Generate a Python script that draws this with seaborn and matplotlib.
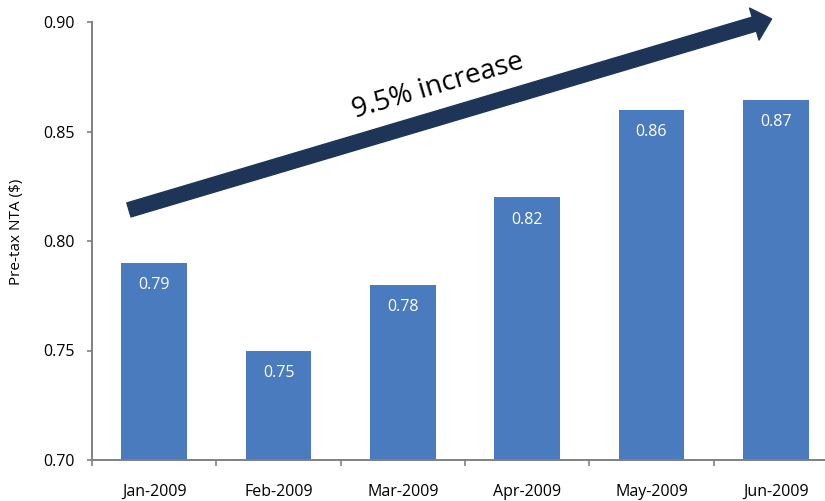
import matplotlib
matplotlib.use("Agg")
import matplotlib.pyplot as plt
import seaborn as sns
import pandas as pd

months = ["Jan-2009", "Feb-2009", "Mar-2009", "Apr-2009", "May-2009", "Jun-2009"]
nta = [0.79, 0.75, 0.78, 0.82, 0.86, 0.8645]
bar_labels = ["0.79", "0.75", "0.78", "0.82", "0.86", "0.87"]
y_ticks = [0.70, 0.75, 0.80, 0.85, 0.90]
y_label = "Pre-tax NTA ($)"
annot_text = "9.5% increase"

sns.set_style("white")
plt.rcParams["font.family"] = ["Open Sans", "DejaVu Sans"]

df = pd.DataFrame({"month": months, "nta": nta})

fig = plt.figure(figsize=(8.25, 5.01), dpi=100)
ax = fig.add_axes([92 / 825, 1 - 460 / 501, 746 / 825, 438 / 501])

sns.barplot(data=df, x="month", y="nta", color="#4A7BBF", saturation=1,
            width=0.53, linewidth=0, ax=ax)

ax.set_ylim(0.70, 0.90)
ax.set_xlim(-0.5, len(months) - 0.5)
ax.set_yticks(y_ticks)
ax.set_yticklabels([f"{v:.2f}" for v in y_ticks])
ax.set_xlabel("")
ax.set_ylabel(y_label, fontsize=11, color="black")
ax.yaxis.set_label_coords(-0.091, 0.52)

for s in ["top", "right"]:
    ax.spines[s].set_visible(False)
for s in ["left", "bottom"]:
    ax.spines[s].set_color("#808080")
    ax.spines[s].set_linewidth(1.4)

ax.tick_params(axis="y", length=3.6, width=1.2, color="#808080", pad=8.5,
               labelsize=11.5, labelcolor="black", left=True, direction="out")
ax.set_xticks([i - 0.5 for i in range(len(months) + 1)], minor=True)
ax.tick_params(axis="x", which="major", length=0, pad=17, labelsize=11.5,
               labelcolor="black")
ax.tick_params(axis="x", which="minor", length=4, width=1.2, color="#808080",
               bottom=True, direction="out")

for i, (v, lab) in enumerate(zip(nta, bar_labels)):
    ax.text(i, v - 0.0103, lab, ha="center", va="center", color="white",
            fontsize=11.5)

# trend arrow
ax.annotate("", xy=(4.966, 0.9014), xytext=(-0.203, 0.8142),
            xycoords="data", textcoords="data", annotation_clip=False,
            arrowprops=dict(arrowstyle="simple,head_length=13,head_width=24,tail_width=10.5",
                            mutation_scale=1, color="#1F3557", shrinkA=0, shrinkB=0))
ax.text(2.281, 0.8705, annot_text, rotation=16.5, rotation_mode="anchor",
        ha="center", va="center", fontsize=20, color="black")

fig.savefig("out.png", dpi=100)
